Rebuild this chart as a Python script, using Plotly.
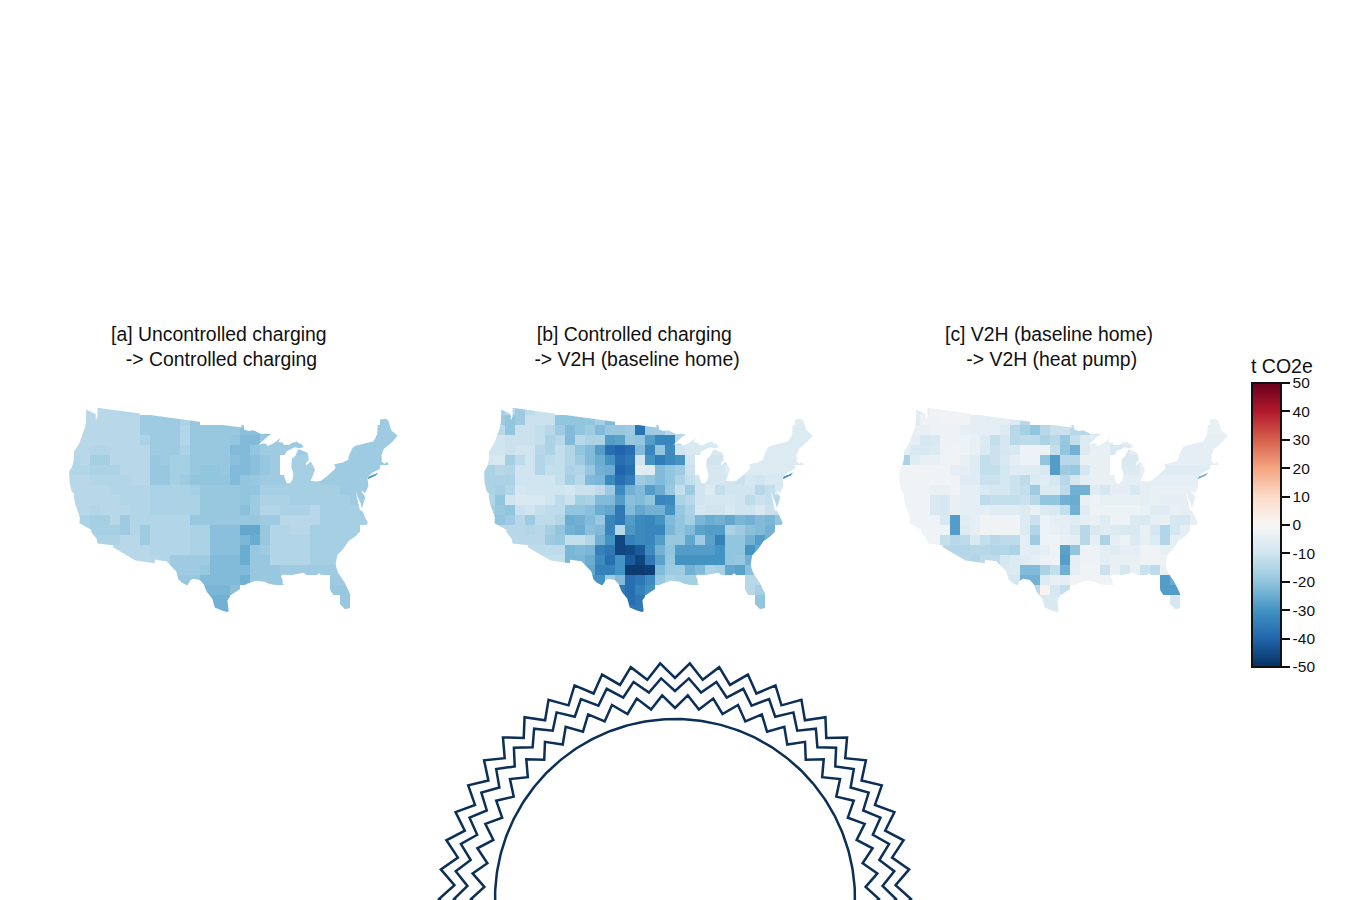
import math
import plotly.graph_objects as go
from plotly.colors import sample_colorscale

_ = None
PANEL_TITLES = ["[a] Uncontrolled charging<br> -> Controlled charging",
                "[b] Controlled charging<br> -> V2H (baseline home)",
                "[c] V2H (baseline home)<br> -> V2H (heat pump)"]
COLORBAR_TICKS = [-50, -40, -30, -20, -10, 0, 10, 20, 30, 40, 50]
COLORSCALE = ["rgb(5,48,97)", "rgb(33,102,172)", "rgb(67,147,195)", "rgb(146,197,222)", "rgb(209,229,240)",
              "rgb(247,247,247)", "rgb(253,219,199)", "rgb(244,165,130)", "rgb(214,96,77)", "rgb(178,24,43)", "rgb(103,0,31)"]
NAVY = "#0b2f56"

# t CO2e, on an equal-area grid of cells over the map, north to south
PANEL_A = [
 [_,_,-14,-14,-14,-14,-15,-15],
 [_,_,-14,-14,-14,-14,-14,-14,-18,-18,-18,-18,-16,-19]+[_]*18+[-18,-18],
 [_,-14,-14,-14,-14,-14,-14,-14,-18,-18,-18,-18,-15,-19,-19,-19,-19,-19,-21,-21,-21,-21]+[_]*8+[-18,-18,-18,-18],
 [-14,-14,-14,-14,-14,-14,-14,-14,-16,-18,-18,-18,-15,-19,-19,-19,-19,-20,-22,-22,-19,-18,-18,-18,-18,_,_,_,_,_,-18,-18,-18,-18],
 [-14,-14,-14,-15,-15,-14,-14,-14,-14,-18,-18,-18,-16,-19,-19,-19,-19,-22,-22,-20,-18,-18,-18,-18,-18,_,_,_,-18,-18,-18,-18,-18,_],
 [-15,-15,-14,-17,-17,-14,-14,-14,-14,-19,-18,-17,-17,-19,-19,-19,-19,-21,-22,-21,-19,-18,_,-17,-17,-17,_,-18,-18,-18,-18,-18,-19,_],
 [-15,-15,-15,-16,-16,-16,-14,-14,-14,-19,-19,-17,-17,-19,-20,-20,-19,-22,-22,-21,-19,-18,_,-17,-17,-17,-18,-18,-18,-18,-18,-18,_,_],
 [-14,-14,-14,-15,-15,-15,-15,-14,-14,-19,-19,-17,-18,-20,-20,-20,-20,-22,-20,-19,-18,-18,-18,-17,-17,-17,-18,-18,-18,-18,-18,-18,_,_],
 [-14,-14,-14,-14,-14,-15,-15,-15,-15,-16,-16,-16,-16,-17,-19,-19,-19,-19,-20,-20,-17,-17,-17,-17,-17,-17,-17,-17,-18,-18,-18],
 [_,-14,-14,-14,-14,-14,-15,-15,-15,-16,-16,-16,-16,-16,-19,-19,-19,-19,-20,-18,-16,-16,-16,-17,-17,-17,-17,-17,-17,-18,-18],
 [_,-14,-14,-15,-14,-14,-14,-15,-15,-16,-16,-16,-16,-16,-19,-19,-19,-19,-21,-18,-15,-15,-16,-16,-16,-14,-17,-17,-17,-17,-18],
 [_,-16,-16,-17,-17,-14,-18,-15,-15,-15,-15,-15,-15,-19,-19,-19,-19,-19,-19,-19,-18,-18,-14,-14,-14,-14,-17,-17,-17,-17,-17],
 [_,_,-16,-17,-17,-17,-18,-15,-18,-15,-15,-15,-15,-16,-16,-21,-21,-21,-26,-26,-19,-15,-15,-14,-14,-17,-17,-17,-17,-17],
 [_,_,_,-16,-16,-16,-14,-14,-18,-15,-15,-15,-15,-16,-16,-21,-21,-21,-23,-25,-19,-15,-15,-15,-15,-17,-17,-17,-17,-17],
 [_,_,_,_,_,-14,-14,-14,-14,-15,-15,-15,-15,-16,-16,-21,-21,-21,-25,-19,-18,-15,-15,-15,-15,-17,-17,-17,-17],
 [_,_,_,_,_,_,-14,-14,-14,-14,-15,-18,-18,-18,-18,-22,-22,-22,-25,-19,-19,-15,-15,-15,-15,-17,-17,-17,-17],
 [_]*10+[-18,-18,-18,-18,-19,-22,-22,-22,-22,-19,-19,-19,-18,-18,-18,-18,-18,-18,-18],
 [_]*10+[-18,-19,-19,-19,-22,-22,-22,-22,-24,-19,-19,-19,-19,_,_,_,_,-18,-18,-18],
 [_]*13+[-22,-23,-23,-23,-21]+[_]*9+[-19,-19,-19],
 [_]*14+[-23,-24,-24]+[_]*11+[-19],
 [_]*15+[-24,-24]+[_]*11+[-19],
]
PANEL_B = [
 [_,_,-17,-14,-18,-13,-11,-11],
 [_,_,-18,-20,-18,-11,-11,-11,-20,-20,-20,-20,-17,-22]+[_]*18+[-7,-7],
 [_,-14,-14,-20,-11,-11,-12,-14,-18,-22,-20,-18,-22,-19,-19,-18,-37,-18,-18,-14,-14,-12]+[_]*8+[-7,-7,-7,-7],
 [-10,-10,-10,-11,-11,-11,-12,-16,-14,-22,-14,-16,-16,-28,-27,-19,-20,-28,-33,-33,-14,-8,-8,-8,-8,_,_,_,_,_,-7,-7,-7,-7],
 [-10,-10,-10,-11,-10,-10,-14,-16,-12,-15,-20,-22,-28,-38,-40,-38,-22,-33,-20,-32,-10,-8,-8,-8,-8,_,_,_,-7,-7,-7,-7,-7,_],
 [-9,-9,-8,-17,-13,-10,-15,-13,-12,-15,-18,-22,-25,-30,-38,-36,-10,-30,-35,-32,-30,-10,_,-10,-10,-10,_,-7,-7,-7,-7,-7,-7,_],
 [-16,-16,-14,-15,-10,-10,-15,-12,-12,-16,-15,-19,-24,-25,-40,-38,-6,-6,-22,-20,-18,-11,_,-9,-9,-6,-7,-7,-7,-7,-7,-7,_,_],
 [-16,-16,-16,-16,-10,-10,-10,-10,-12,-17,-14,-22,-23,-32,-38,-35,-18,-20,-22,-20,-16,-12,-10,-9,-9,-10,-11,-9,-10,-8,-8,-8,_,_],
 [-16,-16,-17,-15,-9,-10,-10,-10,-10,-9,-11,-11,-13,-18,-32,-24,-22,-28,-25,-19,-12,-18,-10,-7,-12,-10,-10,-10,-14,-12,-8],
 [_,-15,-20,-10,-8,-8,-8,-10,-13,-11,-17,-16,-22,-22,-28,-21,-22,-20,-33,-32,-16,-14,-10,-9,-9,-9,-10,-13,-11,-12,-14],
 [_,-17,-19,-20,-11,-10,-12,-13,-13,-20,-20,-21,-25,-26,-36,-22,-26,-24,-24,-30,-19,-16,-9,-10,-10,-8,-10,-10,-8,-11,-12],
 [_,-18,-20,-18,-14,-18,-13,-13,-15,-25,-24,-22,-19,-33,-36,-28,-32,-33,-30,-22,-20,-17,-23,-25,-24,-26,-23,-24,-22,-23,-20],
 [_,_,-14,-14,-14,-15,-14,-17,-20,-24,-25,-21,-22,-33,-14,-29,-32,-33,-33,-23,-20,-22,-27,-28,-28,-16,-18,-21,-22,-24],
 [_,_,_,-14,-14,-14,-14,-18,-19,-12,-12,-15,-24,-30,-46,-34,-32,-33,-28,-19,-19,-26,-18,-27,-34,-20,-20,-24,-28,-24],
 [_,_,_,_,_,-13,-13,-13,-13,-23,-22,-23,-34,-36,-46,-45,-42,-32,-24,-20,-28,-28,-28,-28,-30,-20,-20,-30,-26],
 [_,_,_,_,_,_,-12,-12,-12,-23,-23,-25,-32,-38,-30,-42,-46,-36,-27,-19,-30,-30,-30,-30,-30,-20,-19,-24,-24],
 [_]*10+[-23,-26,-34,-34,-30,-48,-48,-47,-22,-18,-18,-24,-22,-16,-17,-26,-27,-21,-18],
 [_]*10+[-28,-30,-30,-18,-22,-38,-36,-32,-19,-16,-17,-17,-17,_,_,_,_,-14,-14,-14],
 [_]*13+[-30,-36,-38,-34,-30]+[_]*9+[-14,-17,-17],
 [_]*14+[-36,-38,-36]+[_]*11+[-20],
 [_]*15+[-36,-36]+[_]*11+[-20],
]
PANEL_C = [
 [_,_,-6,-5,-2,-2,-2,-2],
 [_,_,-6,-3,-3,-2,-2,-2,-5,-5,-5,-5,-7,-14]+[_]*18+[-4,-4],
 [_,-4,-4,-4,-3,-3,-3,-5,-5,-5,-5,-7,-14,-17,-20,-14,-11,-11,-14,-14,-9,-6]+[_]*8+[-4,-4,-4,-4],
 [-5,-5,-5,-9,-8,-3,-3,-3,-4,-7,-12,-9,-14,-13,-13,-16,-14,-19,-12,-7,-6,-5,-5,-5,-5,_,_,_,_,_,-5,-5,-5,-5],
 [-5,-5,-8,-8,-7,-3,-2,-3,-4,-8,-11,-9,-8,-3,-3,-3,-12,-20,-24,-7,-4,-4,-8,-8,-5,_,_,_,-5,-5,-5,-5,-5,_],
 [-16,-16,-6,-4,-4,-3,-2,-4,-6,-12,-11,-8,-5,-3,-3,-20,-28,-14,-14,-4,-4,-4,_,-8,-8,-5,_,-5,-5,-5,-5,-5,-5,_],
 [-2,-2,-2,-2,-2,-2,-5,-5,-6,-12,-12,-9,-6,-6,-6,-8,-28,-18,-19,-9,-4,-4,_,-7,-7,-4,-5,-6,-6,-6,-6,-6,_,_],
 [-2,-2,-2,-2,-2,-2,-2,-6,-6,-11,-11,-9,-11,-13,-7,-6,-9,-14,-9,-5,-4,-4,-4,-5,-5,-5,-5,-5,-5,-5,-5,-5,_,_],
 [-2,-2,-2,-2,-4,-4,-2,-5,-5,-8,-9,-9,-11,-12,-18,-7,-7,-13,-24,-24,-6,-9,-5,-5,-8,-5,-4,-4,-4,-4,-4],
 [_,-2,-2,-2,-8,-9,-4,-5,-5,-13,-12,-12,-12,-11,-14,-20,-20,-24,-25,-4,-3,-4,-4,-4,-4,-5,-4,-5,-5,-5,-5],
 [_,-2,-2,-2,-8,-9,-4,-5,-5,-5,-6,-6,-6,-7,-4,-7,-8,-12,-24,-6,-3,-3,-3,-3,-3,-4,-6,-6,-4,-5,-5],
 [_,-2,-2,-2,-3,-8,-28,-6,-5,-2,-2,-2,-2,-7,-11,-3,-5,-5,-6,-5,-4,-6,-3,-3,-7,-8,-5,-4,-9,-9,-5],
 [_,_,-2,-2,-2,-2,-28,-7,-5,-2,-2,-2,-2,-7,-15,-3,-4,-5,-8,-14,-8,-6,-7,-8,-8,-4,-9,-15,-9,-5],
 [_,_,_,-2,-2,-12,-14,-13,-8,-12,-14,-13,-13,-5,-18,-3,-2,-4,-5,-14,-5,-16,-5,-3,-7,-4,-7,-15,-5,-5],
 [_,_,_,_,_,-14,-15,-15,-14,-14,-15,-15,-16,-5,-6,-5,-2,-27,-20,-3,-3,-5,-6,-5,-5,-2,-2,-4,-4],
 [_,_,_,_,_,_,-14,-14,-15,-13,-13,-9,-7,-6,-5,-3,-2,-28,-5,-3,-3,-5,-4,-4,-4,-2,-2,-3,-3],
 [_]*10+[-8,-8,-7,-22,-22,-16,-12,-24,-5,-2,-2,-11,-4,-9,-4,-11,-13,-4,-4],
 [_]*10+[-8,-8,-9,-24,-24,-7,-4,-5,-2,-2,-2,-2,-2,_,_,_,_,-28,-25,-4],
 [_]*13+[-9,-14,2,-9,-12]+[_]*9+[-28,-28,-4],
 [_]*14+[-8,-8,-8]+[_]*11+[-9],
 [_]*15+[-8,-8]+[_]*11+[-9],
]
LONG_ISLAND_VALUES = [-28, -30, -24]

# Contiguous US outline, lon/lat
US_LON = [-124.7,-123.2,-122.75,-122.4,-122.3,-122.76,-95.15,-95.15,-94.8,-94.6,-93.8,-92.95,-92.0,-91.4,-90.75,-89.6,-90.3,-91.3,-92.1,-91.2,-90.7,-90.4,-89.2,-88.45,-87.9,-88.4,-87.6,-87.4,-86.6,-85.9,-85.0,-84.6,-84.35,-84.1,-83.9,-83.6,-84.7,-85.5,-86.3,-86.6,-87.0,-87.6,-88.0,-87.0,-87.55,-87.9,-87.8,-87.55,-87.0,-86.5,-86.25,-86.5,-86.25,-85.6,-85.0,-84.75,-83.4,-83.3,-83.3,-83.9,-83.9,-83.0,-82.45,-82.9,-83.15,-83.45,-82.7,-81.7,-80.5,-79.0,-78.9,-79.05,-77.5,-76.5,-76.2,-75.3,-74.7,-71.5,-71.0,-70.4,-70.0,-69.2,-68.3,-67.8,-67.8,-67.45,-67.0,-68.2,-69.0,-70.0,-70.7,-70.8,-71.0,-70.6,-70.05,-69.95,-70.65,-71.4,-72.9,-73.7,-74.0,-74.0,-74.1,-74.9,-75.4,-75.35,-75.1,-75.05,-75.6,-75.95,-75.95,-76.2,-76.25,-76.35,-76.35,-76.3,-76.3,-76.0,-75.8,-75.5,-76.5,-77.9,-79.0,-79.9,-81.0,-81.4,-81.4,-81.25,-80.55,-80.05,-80.15,-80.4,-81.1,-81.75,-82.2,-82.75,-82.7,-83.4,-84.0,-85.0,-85.4,-86.3,-87.5,-88.0,-89.4,-89.6,-89.4,-89.4,-89.1,-90.2,-91.3,-92.0,-93.3,-94.7,-95.4,-96.8,-97.35,-97.15,-97.4,-98.2,-99.1,-99.5,-100.3,-100.8,-101.4,-102.35,-102.7,-103.15,-104.0,-104.5,-104.9,-106.5,-108.2,-108.2,-111.07,-114.8,-114.72,-117.12,-117.3,-118.4,-118.5,-119.2,-120.5,-120.65,-121.9,-122.5,-122.5,-123.0,-123.75,-124.35,-124.1,-124.2,-124.55,-124.1,-123.95,-124.1,-124.7]
US_LAT = [48.38,48.15,48.15,47.4,47.9,49.0,49.0,49.38,49.3,48.72,48.55,48.62,48.3,48.07,48.1,48.0,47.75,47.25,46.75,46.87,46.85,46.55,46.85,47.2,47.47,46.95,46.8,46.5,46.45,46.68,46.77,46.47,46.5,46.2,45.97,46.0,45.9,46.08,45.9,45.75,45.72,45.1,44.55,45.3,44.3,43.0,42.3,41.7,41.68,42.1,42.8,43.7,44.7,45.0,45.7,45.78,45.2,44.8,44.3,43.9,43.65,44.07,43.0,42.4,42.05,41.72,41.5,41.5,42.0,42.7,42.9,43.26,43.27,43.5,44.0,44.85,45.0,45.0,45.3,45.8,46.7,47.45,47.35,47.07,45.7,45.3,44.85,44.3,44.1,43.75,43.07,42.6,42.3,41.95,42.05,41.68,41.55,41.45,41.25,40.95,40.7,40.45,39.75,38.95,39.4,39.1,38.75,38.45,37.6,37.15,37.9,38.6,39.35,39.0,38.3,37.6,37.0,36.9,36.2,35.25,34.65,33.9,33.5,32.7,32.0,31.0,30.4,29.8,28.45,26.9,25.75,25.2,25.13,25.95,26.7,27.8,28.7,29.5,30.1,29.6,29.7,30.4,30.3,30.25,30.35,30.2,29.8,29.2,29.0,29.1,29.3,29.6,29.77,29.35,28.85,28.05,27.3,25.95,25.85,26.05,26.4,27.5,28.3,29.25,29.77,29.88,29.7,28.98,29.3,29.65,30.6,31.75,31.78,31.33,31.33,32.5,32.72,32.53,33.0,33.75,34.03,34.15,34.45,35.15,36.6,37.5,37.8,38.0,39.0,40.3,41.0,42.0,42.85,44.0,46.2,46.9,48.38]
LI_LON = [-74.0,-73.7,-72.6,-72.0,-72.5,-73.9,-74.0]
LI_LAT = [40.6,40.87,40.98,41.1,40.8,40.57,40.6]

# Layout in page pixels
PAGE_W, PAGE_H = 1350, 900
PANEL_SHIFT = 415
KM_TO_PX = 0.0715
X0_PX, Y0_PX, Y0_KM = 237.0, 409.0, -6762.0
BOX = (60, 395, 405, 620)
CELL_PX = 10.0

def albers(lon, lat):
    p1, p2, l0 = map(math.radians, (29.5, 45.5, -96.0))
    r = 6371.0
    n = (math.sin(p1) + math.sin(p2)) / 2
    c = math.cos(p1) ** 2 + 2 * n * math.sin(p1)
    rho = r * math.sqrt(c - 2 * n * math.sin(math.radians(lat))) / n
    th = n * (math.radians(lon) - l0)
    return rho * math.sin(th), -rho * math.cos(th)

def km_x(px):
    return (px - X0_PX) / KM_TO_PX

def km_y(py):
    return Y0_KM - (py - Y0_PX) / KM_TO_PX

cs = [[i / 10, c] for i, c in enumerate(COLORSCALE)]
fig = go.Figure()
x_r = [km_x(BOX[0]), km_x(BOX[2])]
y_r = [km_y(BOX[3]), km_y(BOX[1])]
us = [albers(a, b) for a, b in zip(US_LON, US_LAT)]
li = [albers(a, b) for a, b in zip(LI_LON, LI_LAT)]
cell_x = [km_x(BOX[0] + CELL_PX * (i + 0.5)) for i in range(34)]
cell_y = [km_y(BOX[1] + CELL_PX * (j + 1.5)) for j in range(21)]

layout_axes = {}
for k, panel in enumerate([PANEL_A, PANEL_B, PANEL_C]):
    sfx = "" if k == 0 else str(k + 1)
    xa, ya = "x" + sfx, "y" + sfx
    z = [row + [None] * (34 - len(row)) for row in panel]
    fig.add_trace(go.Heatmap(x=cell_x, y=cell_y, z=z, coloraxis="coloraxis", xaxis=xa, yaxis=ya,
                             hoverongaps=False, name=PANEL_TITLES[k]))
    mx = [x_r[0], x_r[1], x_r[1], x_r[0], x_r[0], None] + [p[0] for p in us] + [None] + [p[0] for p in li]
    my = [y_r[0], y_r[0], y_r[1], y_r[1], y_r[0], None] + [p[1] for p in us] + [None] + [p[1] for p in li]
    fig.add_trace(go.Scatter(x=mx, y=my, mode="lines", fill="toself", fillcolor="white", line=dict(width=0),
                             hoverinfo="skip", showlegend=False, xaxis=xa, yaxis=ya))
    li_col = sample_colorscale(cs, (LONG_ISLAND_VALUES[k] + 50) / 100)[0]
    fig.add_trace(go.Scatter(x=[p[0] for p in li], y=[p[1] for p in li], mode="lines", fill="toself",
                             fillcolor=li_col, line=dict(width=0), showlegend=False, xaxis=xa, yaxis=ya))
    ox = PANEL_SHIFT * k
    common = dict(visible=False, fixedrange=True)
    layout_axes["xaxis" + sfx] = dict(domain=[(BOX[0] + ox) / PAGE_W, (BOX[2] + ox) / PAGE_W], range=x_r,
                                      anchor=ya, **common)
    layout_axes["yaxis" + sfx] = dict(domain=[1 - BOX[3] / PAGE_H, 1 - BOX[1] / PAGE_H], range=y_r,
                                      anchor=xa, **common)

# Decorative emblem below the maps, in page pixels
EMBLEM_CX, EMBLEM_CY, EMBLEM_R = 675, 899, 180
RINGS = [(236, 221), (221, 208), (204, 191)]
STEP_DEG = 3.6
layout_axes["xaxis4"] = dict(domain=[0, 1], range=[0, PAGE_W], anchor="y4", visible=False, fixedrange=True)
layout_axes["yaxis4"] = dict(domain=[0, 1], range=[PAGE_H, 0], anchor="x4", visible=False, fixedrange=True)
angs = list(range(-100, 101))
fig.add_trace(go.Scatter(x=[EMBLEM_CX + EMBLEM_R * math.sin(math.radians(a)) for a in angs],
                         y=[EMBLEM_CY - EMBLEM_R * math.cos(math.radians(a)) for a in angs],
                         mode="lines", line=dict(color=NAVY, width=2.5), hoverinfo="skip",
                         showlegend=False, xaxis="x4", yaxis="y4"))
for peak, valley in RINGS:
    xs, ys = [], []
    for i in range(-28, 29):
        r = valley if i % 2 == 0 else peak
        a = math.radians(i * STEP_DEG)
        xs.append(EMBLEM_CX + r * math.sin(a))
        ys.append(EMBLEM_CY - r * math.cos(a))
    fig.add_trace(go.Scatter(x=xs, y=ys, mode="lines", line=dict(color=NAVY, width=2.5), hoverinfo="skip",
                             showlegend=False, xaxis="x4", yaxis="y4"))

FONT = "Liberation Sans, Arial, sans-serif"
notes = []
for k, t in enumerate(PANEL_TITLES):
    notes.append(dict(text=t, x=(219 + PANEL_SHIFT * k) / PAGE_W, y=1 - 346.5 / PAGE_H, xref="paper", yref="paper",
                      xanchor="center", yanchor="middle", showarrow=False, align="center",
                      font=dict(family=FONT, size=19.4, color="#111111")))
notes.append(dict(text="t CO2e", x=1282 / PAGE_W, y=1 - 366 / PAGE_H, xref="paper", yref="paper", xanchor="center",
                  yanchor="middle", showarrow=False, font=dict(family=FONT, size=19.5, color="#111111")))

fig.update_layout(
    width=PAGE_W, height=PAGE_H, margin=dict(l=0, r=0, t=0, b=0, pad=0),
    paper_bgcolor="white", plot_bgcolor="rgba(0,0,0,0)", showlegend=False, annotations=notes,
    coloraxis=dict(colorscale=cs, cmin=-50, cmax=50,
                   colorbar=dict(x=1252 / PAGE_W, xanchor="left", y=1 - 383 / PAGE_H, yanchor="top",
                                 thickness=29, thicknessmode="pixels", len=284, lenmode="pixels",
                                 xpad=0, ypad=0, outlinecolor="#111111", outlinewidth=2,
                                 tickmode="array", tickvals=COLORBAR_TICKS, ticktext=[str(v) for v in COLORBAR_TICKS],
                                 ticks="outside", ticklen=8, tickwidth=2, tickcolor="#111111",
                                 tickfont=dict(family=FONT, size=15.5, color="#111111"))),
    **layout_axes)
fig.write_html("out.html", config=dict(displayModeBar=False), post_script="document.body.style.margin='0';")
